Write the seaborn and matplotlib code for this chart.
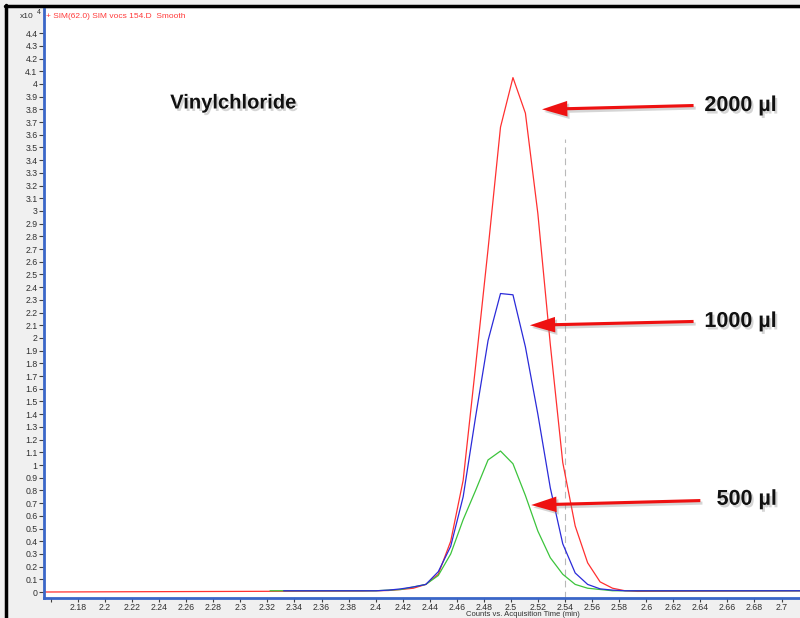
import numpy as np
import pandas as pd
import matplotlib
matplotlib.use("Agg")
import matplotlib.pyplot as plt
import matplotlib.patheffects as pe
from matplotlib.lines import Line2D
import seaborn as sns

# ---------------- data (counts x10^4 vs acquisition time, min) ----------------
time_peak = [2.4003, 2.4095, 2.4187, 2.4279, 2.4371, 2.4463, 2.4555, 2.4647,
             2.4739, 2.4831, 2.4923, 2.5015, 2.5107, 2.5199, 2.5291, 2.5383,
             2.5475, 2.5567, 2.5659, 2.5751, 2.5843, 2.5935]
red_peak = [0.010, 0.012, 0.020, 0.030, 0.060, 0.140, 0.400, 0.880,
            1.780, 2.700, 3.660, 4.050, 3.770, 2.980, 1.950, 1.020,
            0.520, 0.230, 0.080, 0.030, 0.010, 0.005]
blue_peak = [0.010, 0.015, 0.025, 0.040, 0.060, 0.160, 0.360, 0.750,
             1.380, 1.980, 2.350, 2.340, 1.930, 1.400, 0.820, 0.380,
             0.150, 0.060, 0.025, 0.015, 0.010, 0.010]
green_peak = [0.010, 0.015, 0.020, 0.040, 0.060, 0.130, 0.300, 0.570,
              0.800, 1.040, 1.110, 1.010, 0.760, 0.480, 0.270, 0.140,
              0.060, 0.030, 0.020, 0.010, 0.010, 0.010]

red_base_t, red_base_v = [2.150, 2.390], [0.0, 0.008]
blue_base_t, blue_base_v = [2.332, 2.390], [0.010, 0.010]
green_base_t, green_base_v = [2.322, 2.390], [0.010, 0.010]
tail_t, tail_v = [2.730], [0.010]

series_names = ["2000 µl", "1000 µl", "500 µl"]
series_colors = {"2000 µl": "#ff3030", "1000 µl": "#2b2bd9", "500 µl": "#3cc43c"}
draw_order = ["2000 µl", "500 µl", "1000 µl"]

x_ticks = [2.16, 2.18, 2.20, 2.22, 2.24, 2.26, 2.28, 2.30, 2.32, 2.34, 2.36,
           2.38, 2.40, 2.42, 2.44, 2.46, 2.48, 2.50, 2.52, 2.54, 2.56, 2.58,
           2.60, 2.62, 2.64, 2.66, 2.68, 2.70]
x_tick_labels = [""] + ["%g" % v for v in x_ticks[1:]]
y_ticks = [i / 10 for i in range(45)]
y_tick_labels = ["%g" % v for v in y_ticks]

cursor_x = 2.54

# arrows / labels (data coords)
ann_text = ["2000 µl", "1000 µl", "500 µl"]
ann_tip = [(2.523, 3.80), (2.514, 2.10), (2.515, 0.685)]
ann_tail = [(2.635, 3.83), (2.635, 2.13), (2.640, 0.72)]
ann_label = [(2.643, 3.83), (2.643, 2.13), (2.652, 0.73)]

# ---------------- build long table ----------------
rows = []
for name, bt, bv, pk in zip(series_names,
                            [red_base_t, blue_base_t, green_base_t],
                            [red_base_v, blue_base_v, green_base_v],
                            [red_peak, blue_peak, green_peak]):
    for t, v in zip(bt + time_peak + tail_t, bv + pk + tail_v):
        rows.append((name, t, v))
df = pd.DataFrame(rows, columns=["series", "time", "counts"])

# ---------------- figure ----------------
sns.set_style("white")
plt.rcParams["font.family"] = ["Liberation Sans", "DejaVu Sans"]

W, H = 800, 618
fig = plt.figure(figsize=(W / 100, H / 100), dpi=100, facecolor="#f0f0f0")
ax = fig.add_axes([44 / W, 20 / H, 770 / W, 589 / H])
ax.set_facecolor("white")

sns.lineplot(data=df, x="time", y="counts", hue="series",
             hue_order=draw_order, palette=series_colors,
             estimator=None, sort=False, linewidth=0.9, legend=False, ax=ax)

ax.axvline(cursor_x, color="#808080", lw=0.8, ls=(0, (6, 4)), alpha=0.55,
           ymax=0.78, zorder=0)

ax.set_xlim(2.1549, 2.724)
ax.set_ylim(-0.047, 4.59)

ax.set_xticks(x_ticks)
ax.set_xticklabels(x_tick_labels)
ax.set_yticks(y_ticks)
ax.set_yticklabels(y_tick_labels)
ax.tick_params(axis="both", which="both", direction="out", length=3.5,
               width=0.8, color="#404040", labelsize=6.3,
               labelcolor="#303030", pad=1.2,
               bottom=True, left=True)
ax.tick_params(axis="x", length=3, pad=0.6)
ax.set_xlabel("")
ax.set_ylabel("")

for s in ["top", "right"]:
    ax.spines[s].set_visible(False)
for s in ["left", "bottom"]:
    ax.spines[s].set_color("#3a66c8")
    ax.spines[s].set_linewidth(2.0)

# annotations
shadow = [pe.SimplePatchShadow(offset=(1.5, -1.8), shadow_rgbFace="#888888",
                               alpha=0.35), pe.Normal()]
ax.text(2.2946, 3.85, "Vinylchloride", fontsize=14.5, fontweight="bold",
        ha="center", va="center", color="#111111", path_effects=shadow)
for txt, tip, tail, lab in zip(ann_text, ann_tip, ann_tail, ann_label):
    a = ax.annotate("", xy=tip, xytext=tail,
                    arrowprops=dict(arrowstyle="simple,head_length=1.3,head_width=0.8,tail_width=0.16",
                                    mutation_scale=14, fc="#ee1111", ec="none",
                                    shrinkA=0, shrinkB=0))
    a.arrow_patch.set_path_effects(shadow)
    ax.text(lab[0], lab[1], txt, fontsize=15.5, fontweight="bold",
            ha="left", va="center", color="#111111", path_effects=shadow)

# header texts
fig.text(20 / W, 1 - 16 / H, "x10", fontsize=6, color="#303030",
         ha="left", va="center")
fig.text(37 / W, 1 - 13 / H, "4", fontsize=5, color="#303030",
         ha="left", va="center")
fig.text(46 / W, 1 - 16 / H, "+ SIM(62.0) SIM vocs 154.D  Smooth",
         fontsize=6, color="#ff3a3a", ha="left", va="center")
fig.text(523 / W, 1 - 614 / H, "Counts vs. Acquisition Time (min)",
         fontsize=5.5, color="#303030", ha="center", va="center")

# window frame
fig.add_artist(Line2D([5.5 / W, 5.5 / W], [0, 1 - 5 / H], color="black",
                      lw=2.5, transform=fig.transFigure))
fig.add_artist(Line2D([5 / W, 1], [1 - 6 / H, 1 - 6 / H], color="black",
                      lw=2.5, transform=fig.transFigure))

fig.savefig("out.png", dpi=100, facecolor=fig.get_facecolor())
